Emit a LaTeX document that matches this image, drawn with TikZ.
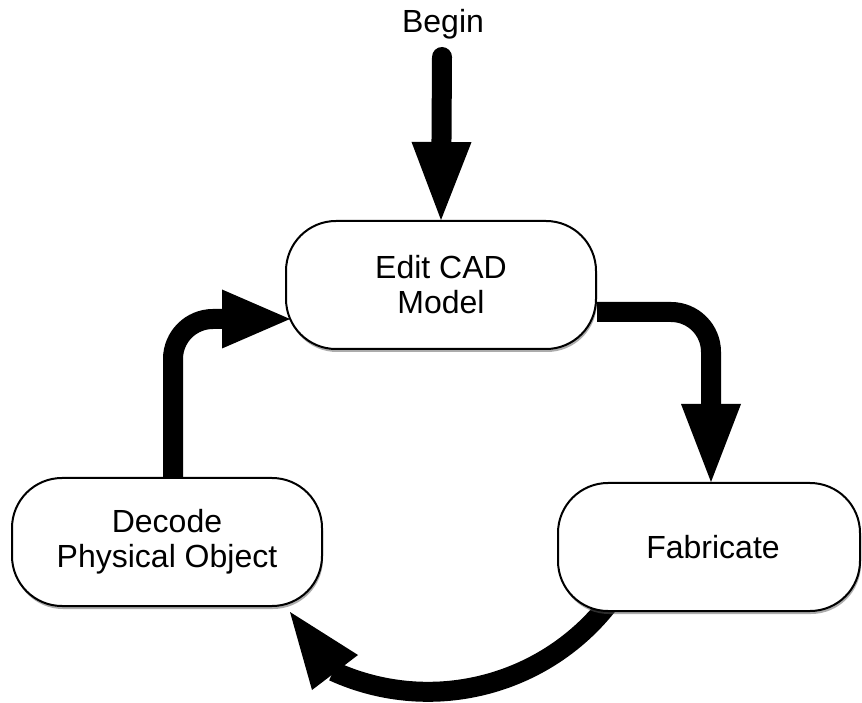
\documentclass[tikz,border=0pt]{standalone}
\usepackage{fontspec}
\setmainfont{Liberation Sans}
\usetikzlibrary{arrows.meta,shadows}
\pgfdeclarelayer{bg}
\pgfsetlayers{bg,main}
\begin{document}
\begin{tikzpicture}[x=1pt,y=1pt,
  lbl/.style={font=\fontsize{32}{35}\selectfont},
  box/.style={draw=black, line width=2pt, fill=white, rounded corners=50pt,
    minimum width=310pt, minimum height=128pt, align=center, lbl,
    drop shadow={shadow xshift=1pt, shadow yshift=-3pt, fill=black!65}},
  shaft/.style={line width=20pt, draw=black},
  headfill/.style={fill=black, draw=none},
  bighead/.style={-{Triangle[length=78pt,width=60pt,line width=0pt]}},
  midhead/.style={-{Triangle[length=68pt,width=59pt,line width=0pt]}}
]
\useasboundingbox (0,0) rectangle (862,702);
% nodes
\node[lbl] (begin) at (443,678) {Begin};
\node[box] (edit) at (441,417) {Edit CAD\\Model};
\node[box, minimum width=302pt] (fab) at (709,155) {\hspace*{8pt}Fabricate};
\node[box] (dec) at (167,160) {Decode\\Physical Object};
% free ends
\coordinate (bstart) at (442,645);
\coordinate (tipC) at (290,383);
\coordinate (bS) at ([xshift=-93.4pt,yshift=-47.2pt]fab.center);
\coordinate (tipB) at (290,90);
\coordinate (bL) at (358,47);
\coordinate (bR) at (312,12);
% connectors (behind the boxes)
\begin{pgfonlayer}{bg}
\draw[shaft, line cap=round, bighead] (bstart) -- (edit.north);
\draw[shaft, bighead, rounded corners=40pt] ([yshift=-27pt]edit.east) -| ([xshift=2pt]fab.north);
\draw[shaft] (bS) arc[start angle=-35, end angle=-114.5, radius=228.9] coordinate (bE);
\fill[headfill] (tipB) -- (bL) -- (bR) -- cycle;
\draw[shaft, midhead, rounded corners=40pt] ([xshift=6pt]dec.north) |- (tipC);
\end{pgfonlayer}
\end{tikzpicture}
\end{document}
